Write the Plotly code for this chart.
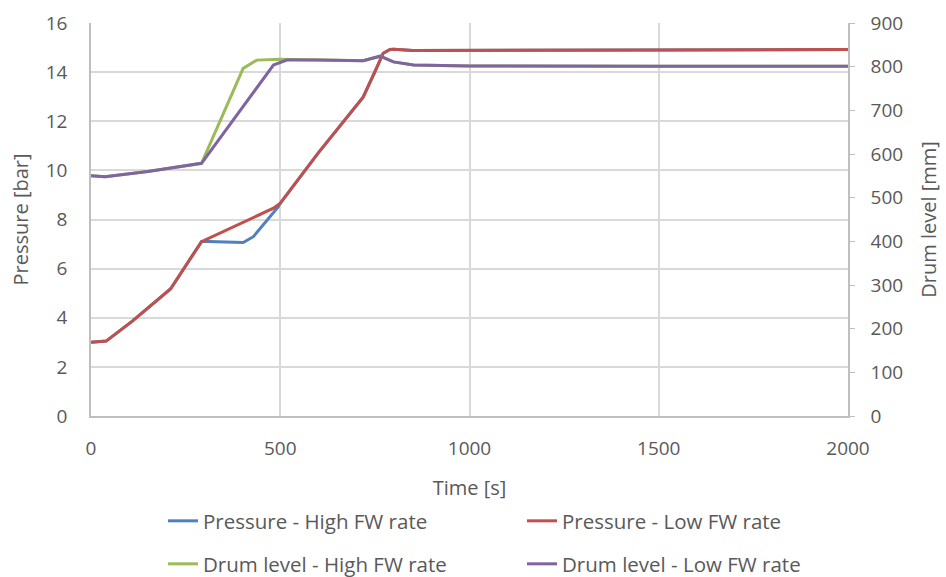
import plotly.graph_objects as go

# Time [s] and values
t_low = [0, 40, 110, 210, 292, 400, 482, 500, 600, 719, 750, 772, 790, 800, 850, 1000, 1500, 2000]
p_low = [3.0, 3.05, 3.87, 5.17, 7.1, 7.87, 8.46, 8.66, 10.7, 12.98, 14.0, 14.77, 14.92, 14.93, 14.88, 14.88, 14.9, 14.92]

t_high_p = [0, 40, 110, 210, 292, 310, 402, 429, 495, 500, 600, 719, 750, 772, 790, 800, 850, 1000, 1500, 2000]
p_high = [3.0, 3.05, 3.87, 5.17, 7.1, 7.1, 7.06, 7.3, 8.52, 8.66, 10.7, 12.98, 14.0, 14.77, 14.92, 14.93, 14.88, 14.88, 14.9, 14.92]

t_lvl_low = [0, 37, 150, 292, 482, 517, 600, 719, 764, 799, 852, 1000, 1500, 2000]
lvl_low = [550, 548, 560, 578.6, 803.8, 815, 815, 813.6, 824, 811, 803.8, 801.5, 801, 801]

t_lvl_high = [0, 37, 150, 292, 402, 438, 500, 600, 719, 764, 799, 852, 1000, 1500, 2000]
lvl_high = [550, 548, 560, 578.6, 796, 815, 816.8, 815, 813.6, 824, 811, 803.8, 801.5, 801, 801]

names = ["Pressure - High FW rate", "Pressure - Low FW rate",
         "Drum level - High FW rate", "Drum level - Low FW rate"]
colors = ["#4F81BD", "#C0504D", "#9BBB59", "#8064A2"]

FONT = "Open Sans, Lato, sans-serif"
TXT = "#595959"

fig = go.Figure()
fig.add_trace(go.Scatter(x=t_high_p, y=p_high, name=names[0], mode="lines",
                         line=dict(color=colors[0], width=3), legend="legend"))
fig.add_trace(go.Scatter(x=t_low, y=p_low, name=names[1], mode="lines",
                         line=dict(color=colors[1], width=3), legend="legend"))
fig.add_trace(go.Scatter(x=t_lvl_high, y=lvl_high, name=names[2], mode="lines", yaxis="y2",
                         line=dict(color=colors[2], width=3), legend="legend2"))
fig.add_trace(go.Scatter(x=t_lvl_low, y=lvl_low, name=names[3], mode="lines", yaxis="y2",
                         line=dict(color=colors[3], width=3), legend="legend2"))

leg_common = dict(orientation="h", xanchor="left", yanchor="middle", entrywidth=314,
                  entrywidthmode="pixels", font=dict(family=FONT, size=20.5, color=TXT),
                  bgcolor="rgba(0,0,0,0)", itemwidth=30, xref="container", yref="container")

fig.update_layout(
    width=946, height=577,
    margin=dict(l=91, r=98, t=23, b=161, autoexpand=False),
    paper_bgcolor="white", plot_bgcolor="white",
    font=dict(family=FONT, size=19, color=TXT),
    showlegend=True,
    legend=dict(x=163 / 946, y=1 - 521 / 577, **leg_common),
    legend2=dict(x=163 / 946, y=1 - 564 / 577, **leg_common),
    xaxis=dict(range=[0, 2000], dtick=500, showgrid=True, gridcolor="#D9D9D9", gridwidth=1.5,
               showline=True, linecolor="#BFBFBF", linewidth=1.5, ticks="", automargin=False,
               zeroline=False, ticklabelstandoff=14,
               title=dict(text="Time [s]", font=dict(size=20, color=TXT), standoff=21),
               tickfont=dict(size=19, color=TXT)),
    yaxis=dict(range=[0, 16], dtick=2, showgrid=True, gridcolor="#D9D9D9", gridwidth=1.5,
               showline=True, linecolor="#BFBFBF", linewidth=1.5, ticks="", automargin=False,
               zeroline=False, ticklabelstandoff=18,
               title=dict(text="Pressure [bar]", font=dict(size=20, color=TXT), standoff=12),
               tickfont=dict(size=19, color=TXT)),
    yaxis2=dict(range=[0, 900], dtick=100, overlaying="y", side="right", showgrid=False,
                showline=True, linecolor="#BFBFBF", linewidth=1.5, ticks="outside", automargin=False,
                ticklen=5, tickcolor="#BFBFBF", zeroline=False, ticklabelstandoff=12,
                title=dict(text="Drum level [mm]", font=dict(size=20, color=TXT), standoff=20),
                tickfont=dict(size=19, color=TXT)),
)

fig.write_html("out.html")
